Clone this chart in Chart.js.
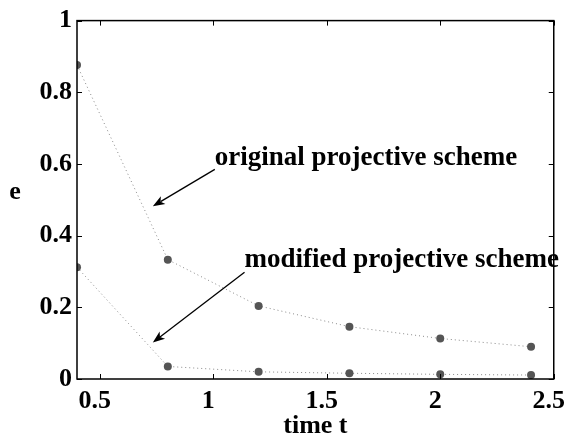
<!DOCTYPE html>
<html>
<head>
<meta charset="utf-8">
<script src="https://cdn.jsdelivr.net/npm/chart.js@4.4.1/dist/chart.umd.min.js"></script>
<style>
  html,body{margin:0;padding:0;background:#fff;}
  #wrap{width:577px;height:445px;position:relative;}
</style>
</head>
<body>
<div id="wrap"><canvas id="c" width="577" height="445"></canvas></div>
<script>
// ---- data ----
const timeValues = [0.4, 0.8, 1.2, 1.6, 2.0, 2.4];
const originalScheme = [0.876, 0.333, 0.204, 0.146, 0.113, 0.090];
const modifiedScheme = [0.312, 0.035, 0.020, 0.016, 0.013, 0.011];
const xTickValues = [0.5, 1, 1.5, 2, 2.5];
const xTickLabels = ['0.5', '1', '1.5', '2', '2.5'];
const yTickValues = [0, 0.2, 0.4, 0.6, 0.8, 1];
const yTickLabels = ['0', '0.2', '0.4', '0.6', '0.8', '1'];
const xAxisTitle = 'time t';
const yAxisTitle = 'e';
const annotations = [
  {text: 'original projective scheme', tx: 1.007, ty: 0.598, fromX: 1.007, fromY: 0.585, toX: 0.734, toY: 0.482},
  {text: 'modified projective scheme', tx: 1.138, ty: 0.313, fromX: 1.138, fromY: 0.298, toX: 0.734, toY: 0.102}
];

const FONT = '"Liberation Serif", "Times New Roman", serif';

const framePlugin = {
  id: 'frame',
  afterDraw(chart) {
    const {ctx, chartArea: a, scales} = chart;
    const xs = scales.x, ys = scales.y;
    ctx.save();
    ctx.strokeStyle = '#000';
    ctx.lineWidth = 1.5;
    ctx.strokeRect(a.left, a.top, a.right - a.left, a.bottom - a.top);
    ctx.lineWidth = 1;
    const tl = 5;
    ctx.beginPath();
    xTickValues.forEach(v => {
      const px = Math.round(xs.getPixelForValue(v)) + 0.5;
      ctx.moveTo(px, a.bottom); ctx.lineTo(px, a.bottom - tl);
      ctx.moveTo(px, a.top); ctx.lineTo(px, a.top + tl);
    });
    yTickValues.forEach(v => {
      const py = Math.round(ys.getPixelForValue(v)) + 0.5;
      ctx.moveTo(a.left, py); ctx.lineTo(a.left + tl, py);
      ctx.moveTo(a.right, py); ctx.lineTo(a.right - tl, py);
    });
    ctx.stroke();

    // annotations with arrows
    ctx.fillStyle = '#000';
    ctx.font = 'bold 27px ' + FONT;
    ctx.textBaseline = 'alphabetic';
    ctx.textAlign = 'left';
    annotations.forEach(an => {
      ctx.fillText(an.text, xs.getPixelForValue(an.tx), ys.getPixelForValue(an.ty));
      const x1 = xs.getPixelForValue(an.fromX), y1 = ys.getPixelForValue(an.fromY);
      const x2 = xs.getPixelForValue(an.toX), y2 = ys.getPixelForValue(an.toY);
      const ang = Math.atan2(y2 - y1, x2 - x1);
      const hl = 12, hw = 4.5;
      const bx = x2 - hl * Math.cos(ang), by = y2 - hl * Math.sin(ang);
      ctx.beginPath();
      ctx.moveTo(x1, y1); ctx.lineTo(bx + 3 * Math.cos(ang), by + 3 * Math.sin(ang));
      ctx.lineWidth = 1.3;
      ctx.stroke();
      ctx.beginPath();
      ctx.moveTo(x2, y2);
      ctx.lineTo(bx + hw * Math.sin(ang), by - hw * Math.cos(ang));
      ctx.lineTo(bx + 3 * Math.cos(ang), by + 3 * Math.sin(ang));
      ctx.lineTo(bx - hw * Math.sin(ang), by + hw * Math.cos(ang));
      ctx.closePath();
      ctx.fill();
    });

    // y axis title (horizontal)
    ctx.font = 'bold 26px ' + FONT;
    ctx.textAlign = 'center';
    ctx.textBaseline = 'middle';
    ctx.fillText(yAxisTitle, 15, ys.getPixelForValue(0.52));
    ctx.restore();
  }
};

new Chart(document.getElementById('c'), {
  type: 'line',
  data: {
    datasets: [
      {
        label: 'original projective scheme',
        data: timeValues.map((t, i) => ({x: t, y: originalScheme[i]})),
        borderColor: '#8a8a8a', borderWidth: 1, borderDash: [1, 3],
        pointRadius: 4, pointBackgroundColor: '#555', pointBorderWidth: 0,
        tension: 0, fill: false
      },
      {
        label: 'modified projective scheme',
        data: timeValues.map((t, i) => ({x: t, y: modifiedScheme[i]})),
        borderColor: '#8a8a8a', borderWidth: 1, borderDash: [1, 3],
        pointRadius: 4, pointBackgroundColor: '#555', pointBorderWidth: 0,
        tension: 0, fill: false
      }
    ]
  },
  options: {
    responsive: false,
    animation: false,
    devicePixelRatio: 1,
    layout: {padding: {top: 9, right: 18, left: 0, bottom: 6}},
    plugins: {legend: {display: false}, tooltip: {enabled: false}},
    scales: {
      x: {
        type: 'linear', min: 0.4, max: 2.5,
        afterBuildTicks(s) { s.ticks = xTickValues.map(v => ({value: v})); },
        afterFit(s) { s.height = 60; },
        grid: {display: false, drawTicks: false},
        border: {display: false},
        ticks: {padding: 7, color: '#000', font: {family: FONT, size: 26, weight: 'bold'}, labelOffset: -5, maxRotation: 0, autoSkip: false,
          callback: (v, i) => xTickLabels[i]},
        title: {display: true, text: xAxisTitle, color: '#000', font: {family: FONT, size: 26, weight: 'bold', lineHeight: 1}, padding: 0}
      },
      y: {
        type: 'linear', min: 0, max: 1,
        afterBuildTicks(s) { s.ticks = yTickValues.map(v => ({value: v})); },
        afterFit(s) { s.width = 77; },
        grid: {display: false, drawTicks: false},
        border: {display: false},
        ticks: {padding: 5, color: '#000', font: {family: FONT, size: 26, weight: 'bold'}, autoSkip: false,
          callback: (v, i) => yTickLabels[i]},
        title: {display: false}
      }
    }
  },
  plugins: [framePlugin]
});
</script>
</body>
</html>
